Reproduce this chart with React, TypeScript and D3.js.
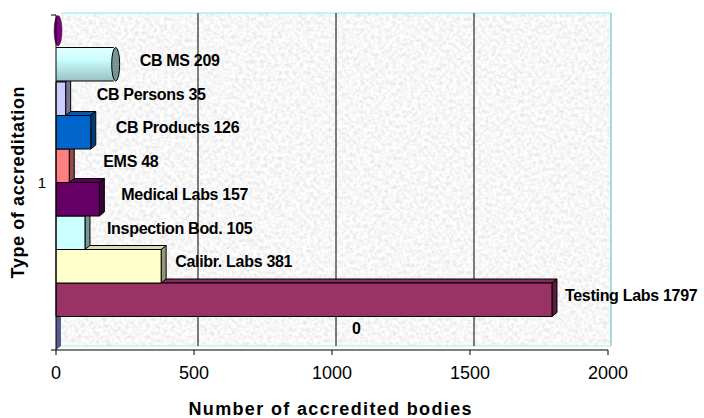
import React from 'react';
import * as d3 from 'd3';

// chart data, bottom series first
const categories = ['1'];
const seriesNames = ['', 'Testing Labs', 'Calibr. Labs', 'Inspection Bod.', 'Medical Labs', 'EMS', 'CB Products', 'CB Persons', 'CB MS', ''];
const seriesValues = [0, 1797, 381, 105, 157, 48, 126, 35, 209, 0];
const dataLabels = ['0', 'Testing Labs 1797', 'Calibr. Labs 381', 'Inspection Bod. 105', 'Medical Labs 157', 'EMS 48', 'CB Products 126', 'CB Persons 35', 'CB MS 209', ''];
const xTicks = [0, 500, 1000, 1500, 2000];

// styling per series
const colors = ['#9999FF', '#993366', '#FFFFCC', '#CCFFFF', '#660066', '#FF8080', '#0066CC', '#CCCCFF', '#CCFFFF', '#DD00DD'];
const shapes = ['box', 'box', 'box', 'box', 'box', 'box', 'box', 'box', 'cyl', 'cyl'];
const labelDx = [291, 8, 9, 17, 17, 29, 20, 26, 21, 0];

const W = 704;
const H = 418;
const FONT = 'Liberation Sans, Arial, sans-serif';

const App = () => {
  const left = 56, right = 608, top = 15, bottom = 350;
  const bx = 5, by = -4; // bar depth
  const wx = 4, wy = -4; // wall depth

  const x = d3.scaleLinear().domain([0, 2000]).range([left, right]);
  const cat = d3.scaleBand().domain(categories).range([bottom, top]);
  const y = d3
    .scaleBand<number>()
    .domain(d3.range(seriesValues.length))
    .range([cat(categories[0])! + cat.bandwidth(), cat(categories[0])!])
    .padding(0);
  const bh = y.bandwidth();
  const x0 = x(0);

  const wallL = left + wx + 1, wallR = right + wx - 1, wallT = top + wy + 2, wallB = bottom + wy;

  const bars = seriesValues.map((v, i) => {
    const t = y(i)!;
    const b = t + bh;
    const xe = x(v);
    const c = d3.color(colors[i])!;
    const side = c.darker(1.5).toString();
    const topC = c.darker(0.4).toString();
    if (shapes[i] === 'cyl') {
      const cy = t + bh / 2 - 1;
      return (
        <g key={i}>
          {v > 0 && (
            <>
              <rect x={x0} y={t - 1} width={xe - x0} height={bh} fill={`url(#cyl${i})`} />
              <line x1={x0} x2={xe} y1={t - 1} y2={t - 1} stroke="#000" />
              <line x1={x0} x2={xe} y1={b - 1} y2={b - 1} stroke="#000" />
            </>
          )}
          <ellipse
            cx={xe + 2}
            cy={cy}
            rx={4}
            ry={bh / 2 - (v > 0 ? 0 : 1.5)}
            fill={side}
            stroke="#000"
            strokeWidth={v > 0 ? 1 : 0.4}
          />
        </g>
      );
    }
    return (
      <g key={i} stroke="#000" strokeWidth={1} strokeLinejoin="round">
        {v > 0 && (
          <path d={`M${x0},${t}L${x0 + bx},${t + by}L${xe + bx},${t + by}L${xe},${t}Z`} fill={topC} />
        )}
        <path
          d={`M${xe},${t}L${xe + bx},${t + by}L${xe + bx},${b + by}L${xe},${b}Z`}
          fill={side}
          stroke={v > 0 ? '#000' : 'none'}
        />
        {v > 0 && <rect x={x0} y={t} width={xe - x0} height={bh} fill={colors[i]} />}
      </g>
    );
  });

  return (
    <svg width={W} height={H} style={{ position: 'absolute', left: 0, top: 0 }} fontFamily={FONT}>
      <defs>
        <filter id="granite" x="0" y="0" width="1" height="1">
          <feTurbulence type="fractalNoise" baseFrequency="0.28" numOctaves={3} seed={7} />
          <feColorMatrix
            type="matrix"
            values="0.42 0 0 0 0.72  0.42 0 0 0 0.72  0.42 0 0 0 0.72  0 0 0 0 1"
          />
        </filter>
        {colors.map((c, i) => (
          <linearGradient key={i} id={`cyl${i}`} x1="0" y1="0" x2="0" y2="1">
            <stop offset="0" stopColor={d3.color(c)!.brighter(0.3).toString()} />
            <stop offset="0.35" stopColor={c} />
            <stop offset="1" stopColor={d3.color(c)!.darker(0.8).toString()} />
          </linearGradient>
        ))}
      </defs>
      <rect width={W} height={H} fill="#fff" />

      {/* back wall */}
      <rect x={wallL} y={wallT} width={wallR - wallL} height={wallB - wallT} filter="url(#granite)" />
      <line x1={wallL} x2={wallR} y1={wallT} y2={wallT} stroke="#c4f2f2" strokeWidth={2} />
      <line x1={wallR} x2={wallR} y1={wallT} y2={wallB} stroke="#a6dcdc" strokeWidth={2} />
      <line x1={wallL} x2={wallR} y1={wallB} y2={wallB} stroke="#c4f2f2" strokeWidth={1.5} />

      {xTicks.slice(1, -1).map((t) => (
        <line key={t} x1={x(t) + wx} x2={x(t) + wx} y1={wallT} y2={wallB} stroke="#000" strokeWidth={1} />
      ))}

      {bars}

      {/* axes */}
      <line x1={left} x2={left} y1={top} y2={bottom} stroke="#000" />
      <line x1={left - 5} x2={left} y1={top} y2={top} stroke="#000" />
      <line x1={left - 5} x2={right} y1={bottom} y2={bottom} stroke="#000" />
      {xTicks.map((t) => (
        <line key={t} x1={x(t)} x2={x(t)} y1={bottom} y2={bottom + 5} stroke="#000" />
      ))}
      {xTicks.map((t) => (
        <text key={t} x={x(t)} y={379} textAnchor="middle" fontSize={18} fill="#000">
          {t}
        </text>
      ))}
      {categories.map((c) => (
        <text key={c} x={46} y={cat(c)! + cat.bandwidth() / 2 + 5} textAnchor="end" fontSize={15} fill="#000">
          {c}
        </text>
      ))}

      {/* data labels */}
      {dataLabels.map((l, i) =>
        l ? (
          <text
            key={i}
            x={x(seriesValues[i]) + bx + labelDx[i]}
            y={y(i)! + bh / 2 - 4.5}
            dominantBaseline="central"
            fontSize={16}
            fontWeight="bold"
            letterSpacing={-0.3}
            fill="#000"
          >
            {l}
          </text>
        ) : null
      )}

      <text x={330} y={415} textAnchor="middle" fontSize={18} fontWeight="bold" textLength={283} lengthAdjust="spacing">
        Number of accredited bodies
      </text>
      <text
        transform={`translate(24,${(top + bottom) / 2}) rotate(-90)`}
        textAnchor="middle"
        fontSize={18}
        fontWeight="bold"
        textLength={192}
        lengthAdjust="spacing"
      >
        Type of accreditation
      </text>
    </svg>
  );
};

export default App;
